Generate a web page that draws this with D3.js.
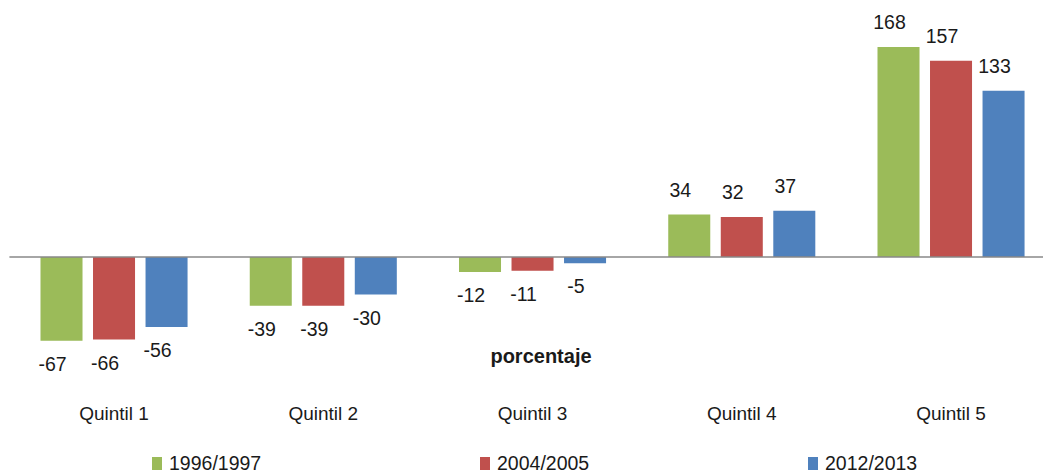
<!DOCTYPE html>
<html>
  <head>
    <meta charset="utf-8">
    <title>quintiles</title>
    <style>
    body{margin:0;background:#fff}
    text{font-family:"Liberation Sans",Arial,sans-serif;fill:#1a1a1a}
    </style>
  </head>
  <body>
    <svg width="1043" height="474"></svg>
    <script src="https://d3js.org/d3.v7.min.js"></script>
    <script>

    var quintiles = ["Quintil 1", "Quintil 2", "Quintil 3", "Quintil 4", "Quintil 5"];
    var periods = ["1996/1997", "2004/2005", "2012/2013"];
    var v1996 = [-67, -39, -12, 34, 168];
    var v2004 = [-66, -39, -11, 32, 157];
    var v2012 = [-56, -30, -5, 37, 133];
    var colors = ["#9bbb59", "#c0504d", "#4f81bd"];
    var axisTitle = "porcentaje";

    var series = [v1996, v2004, v2012];

    var svg = d3.select("svg");

    // category bands run a bit past the right edge, like the original
    var x0 = d3.scaleBand().domain(quintiles)
      .range([9.4, 9.4 + 5 * 209.25])
      .paddingInner(0.247).paddingOuter(0.1235);
    var x1 = d3.scaleBand().domain(d3.range(3))
      .range([0, x0.bandwidth()])
      .paddingInner(0.2).paddingOuter(0.1);
    var y = d3.scaleLinear().domain([0, 168]).range([257, 47]);

    var groups = svg.selectAll("g.q").data(quintiles).enter().append("g")
      .attr("class", "q")
      .attr("transform", function(d) { return "translate(" + x0(d) + ",0)"; });

    groups.selectAll("rect").data(function(d, i) {
      return series.map(function(s, k) { return {k: k, v: s[i]}; });
    }).enter().append("rect")
      .attr("x", function(d) { return x1(d.k); })
      .attr("width", x1.bandwidth())
      .attr("y", function(d) { return y(Math.max(0, d.v)); })
      .attr("height", function(d) { return Math.abs(y(d.v) - y(0)); })
      .attr("fill", function(d) { return colors[d.k]; });

    groups.selectAll("text.val").data(function(d, i) {
      return series.map(function(s, k) { return {k: k, v: s[i]}; });
    }).enter().append("text")
      .attr("class", "val")
      .attr("x", function(d) { return x1(d.k) + x1.bandwidth() / 2 - 9; })
      .attr("y", function(d) { return d.v >= 0 ? y(d.v) - 18 : y(d.v) + 30; })
      .attr("text-anchor", "middle")
      .style("font-size", "19.5px")
      .text(function(d) { return d.v; });

    // zero line
    svg.append("line")
      .attr("x1", 9.4).attr("x2", 1043)
      .attr("y1", y(0)).attr("y2", y(0))
      .attr("stroke", "#898989").attr("stroke-width", 1.3);

    // category labels
    svg.selectAll("text.cat").data(quintiles).enter().append("text")
      .attr("class", "cat")
      .attr("x", function(d) { return x0(d) + x0.bandwidth() / 2; })
      .attr("y", 420)
      .attr("text-anchor", "middle")
      .style("font-size", "19px")
      .text(function(d) { return d; });

    svg.append("text")
      .attr("x", 541).attr("y", 363)
      .attr("text-anchor", "middle")
      .style("font-size", "20px").style("font-weight", "bold")
      .text(axisTitle);

    // legend
    var lx = d3.scalePoint().domain(periods).range([152, 808]);
    var leg = svg.selectAll("g.leg").data(periods).enter().append("g")
      .attr("class", "leg")
      .attr("transform", function(d) { return "translate(" + lx(d) + ",0)"; });
    leg.append("rect").attr("x", 0).attr("y", 457).attr("width", 10).attr("height", 13)
      .attr("fill", function(d, i) { return colors[i]; });
    leg.append("text").attr("x", 17).attr("y", 470)
      .style("font-size", "19.5px")
      .text(function(d) { return d; });

    </script>
  </body>
</html>
